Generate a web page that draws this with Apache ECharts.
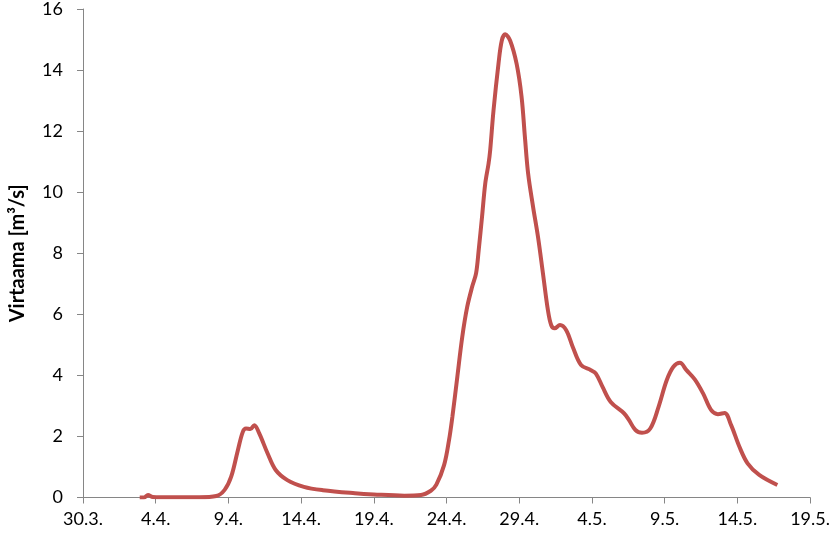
<!DOCTYPE html>
<html>
<head>
<meta charset="utf-8">
<script src="https://cdn.jsdelivr.net/npm/echarts@6/dist/echarts.min.js"></script>
<style>html,body{margin:0;padding:0;background:#fff}#c{width:833px;height:537px}</style>
</head>
<body>
<div id="c"></div>
<script>
// Day offsets counted from 30.3.
const days = [3.9,4.2,4.47,4.8,6,8,9.17,9.74,10.19,10.65,10.99,11.21,11.51,11.78,12.12,12.69,13.25,14.05,15.19,16.5,18.7,20.0,22.1,23.24,23.92,24.3,24.83,25.17,25.4,25.74,26.08,26.42,26.76,27.03,27.21,27.44,27.66,27.89,28.0,28.23,28.57,28.8,29.03,29.37,29.82,30.16,30.39,30.61,30.95,31.29,31.63,31.97,32.2,32.43,32.8,33.23,33.68,34.25,34.93,35.27,35.72,36.29,37.2,37.54,37.99,38.44,39.01,39.58,40.14,40.6,41.05,41.5,42.07,42.64,43.2,43.66,44.12,44.57,45.14,45.7,46.5,47.75];
const flow = [0.0,0.0,0.08,0.02,0.01,0.01,0.05,0.25,0.68,1.55,2.15,2.26,2.24,2.37,2.1,1.45,0.9,0.57,0.35,0.24,0.14,0.1,0.06,0.08,0.22,0.42,1.06,1.88,2.64,3.95,5.26,6.24,6.9,7.34,8.1,9.19,10.28,10.94,11.37,12.68,14.2,14.97,15.17,14.97,14.2,13.12,11.8,10.61,9.52,8.53,7.34,6.14,5.64,5.54,5.65,5.48,4.93,4.34,4.17,4.06,3.63,3.13,2.76,2.54,2.21,2.12,2.26,2.97,3.84,4.28,4.41,4.17,3.87,3.41,2.86,2.73,2.77,2.37,1.66,1.12,0.74,0.41];
const xTickLabels = ['30.3.','4.4.','9.4.','14.4.','19.4.','24.4.','29.4.','4.5.','9.5.','14.5.','19.5.'];
const yTicks = [0,2,4,6,8,10,12,14,16];
const yName = 'Virtaama [m³/s]';

const seriesData = days.map((d, i) => [d, flow[i]]);
const chart = echarts.init(document.getElementById('c'), null, {renderer: 'canvas'});
const axisCol = '#868686';
const font = 'Lato, "Open Sans", sans-serif';
chart.setOption({
  animation: false,
  backgroundColor: '#fff',
  grid: {left: 78.6, right: 20, top: 8.5, bottom: 39.5, containLabel: false},
  xAxis: {
    type: 'value', min: 0, max: 50, interval: 5,
    axisLine: {show: true, onZero: false, lineStyle: {color: axisCol, width: 1}},
    axisTick: {show: true, length: 6, lineStyle: {color: axisCol}},
    splitLine: {show: false},
    axisLabel: {
      color: '#000', fontFamily: font, fontSize: 18, margin: 13,
      formatter: v => xTickLabels[Math.round(v / 5)] || ''
    }
  },
  yAxis: {
    type: 'value', min: yTicks[0], max: yTicks[yTicks.length - 1], interval: 2,
    name: yName, nameLocation: 'middle', nameGap: 55, nameRotate: 90,
    nameTextStyle: {color: '#000', fontFamily: font, fontSize: 20, fontWeight: 'bold'},
    axisLine: {show: true, lineStyle: {color: axisCol, width: 1}},
    axisTick: {show: true, length: 6, lineStyle: {color: axisCol}},
    splitLine: {show: false},
    axisLabel: {color: '#000', fontFamily: font, fontSize: 18, margin: 20}
  },
  series: [{
    type: 'line', data: seriesData, smooth: 0.35, showSymbol: false,
    lineStyle: {color: '#C0504D', width: 4}
  }]
});
</script>
</body>
</html>
